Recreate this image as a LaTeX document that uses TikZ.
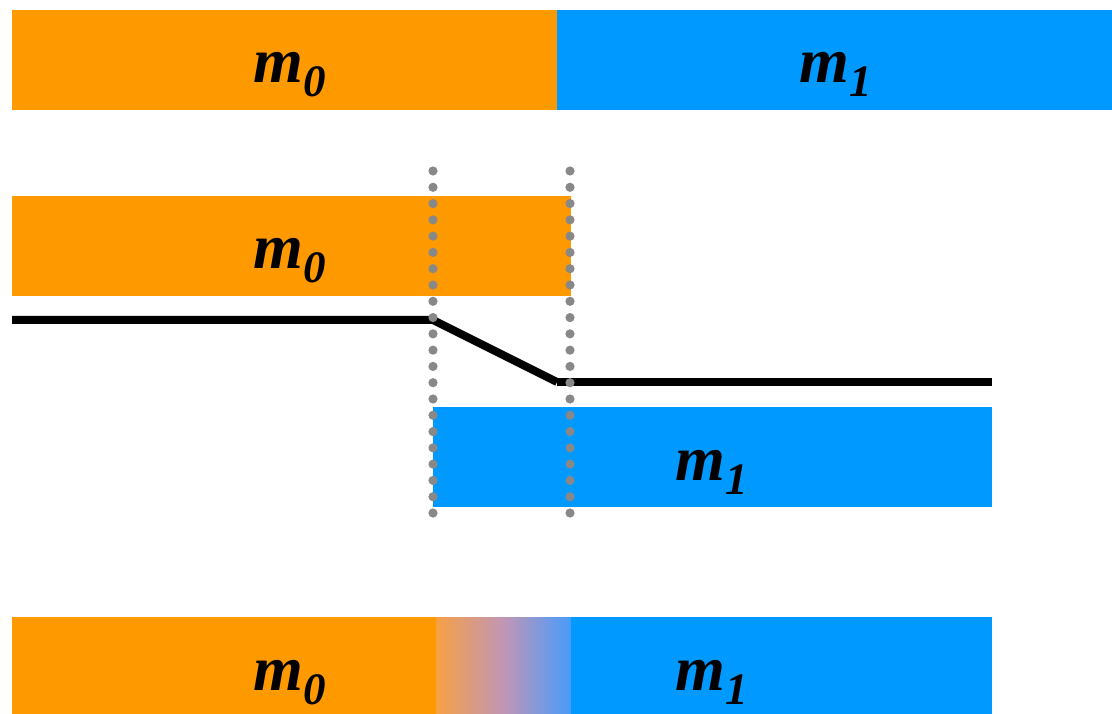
\documentclass[tikz,border=0pt]{standalone}
\usepackage{fontspec}
\setmainfont{Liberation Serif}
\definecolor{mOrange}{RGB}{255,153,0}
\definecolor{mBlue}{RGB}{0,153,255}
\definecolor{mMixA}{RGB}{246,160,68}
\definecolor{mMix}{RGB}{192,150,182}
\definecolor{mMixB}{RGB}{72,155,250}
\definecolor{dotGray}{RGB}{136,136,136}
\newcommand{\mlabel}[1]{\bfseries\itshape m\raisebox{-14pt}{\fontsize{45}{45}\selectfont #1}}

\begin{document}
\begin{tikzpicture}[x=1pt, y=-1pt,
    lbl/.style={font=\fontsize{64}{64}\selectfont, inner sep=0pt, anchor=base},
    dotmark/.style={fill=dotGray},
    profile/.style={line width=8pt}
  ]
  \useasboundingbox (0,0) rectangle (1112,714);

  \fill[mOrange] (12,10) rectangle (557,110);
  \fill[mBlue] (557,10) rectangle (1112,110);
  \node[lbl] (topA) at (290,83) {\mlabel{0}};
  \node[lbl] (topB) at (836,83) {\mlabel{1}};

  \fill[mOrange] (12,196) rectangle (571,296);
  \fill[mBlue] (433,407) rectangle (992,507);
  \node[lbl] (midA) at (290,269) {\mlabel{0}};
  \node[lbl] (midB) at (712,480) {\mlabel{1}};

  \coordinate (kinkA) at (433,320);
  \coordinate (kinkB) at (557,382);
  \draw[profile] (12,320) -- (kinkA) -- (kinkB);
  \draw[profile] (kinkB) -- (992,382);

  \foreach \i in {0,...,21} {
    \fill[dotmark] (433,171+16.286*\i) circle (4.6pt);
    \fill[dotmark] (570,171+16.286*\i) circle (4.6pt);
  }

  \fill[mOrange] (12,617) rectangle (436,714);
  \shade[left color=mMixA, right color=mMix] (436,617) rectangle (504,714);
  \shade[left color=mMix, right color=mMixB] (504,617) rectangle (571,714);
  \fill[mBlue] (571,617) rectangle (992,714);
  \node[lbl] (botA) at (290,690) {\mlabel{0}};
  \node[lbl] (botB) at (712,690) {\mlabel{1}};
\end{tikzpicture}
\end{document}
